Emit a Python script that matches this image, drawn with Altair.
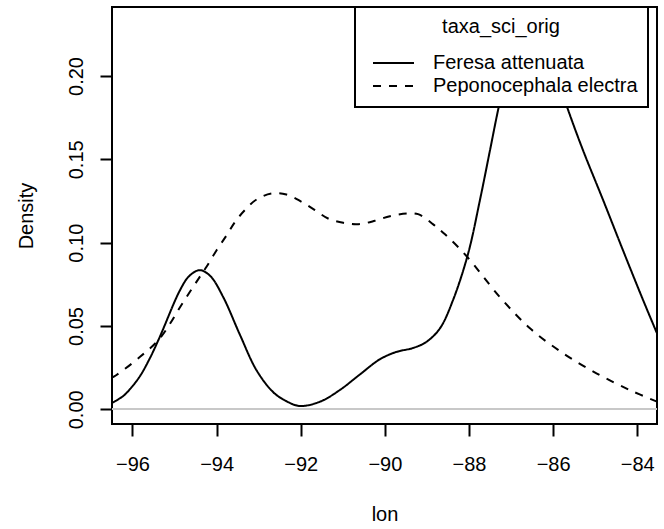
import altair as alt
import pandas as pd

species = ["Feresa attenuata", "Peponocephala electra"]

feresa_lon = [-96.49, -96.22, -96.05, -95.82, -95.58, -95.35, -94.87, -94.65, -94.40,
              -94.15, -93.84, -93.45, -93.05, -92.65, -92.35, -92.02, -91.54, -91.07,
              -90.59, -90.12, -89.72, -89.33, -89.01, -88.69, -88.38, -88.02, -87.74,
              -87.50, -87.31, -87.10, -86.85, -86.55, -86.25, -85.95, -85.64, -85.29,
              -84.81, -84.34, -83.86, -83.53]
feresa_density = [0.0038, 0.0080, 0.0124, 0.0200, 0.0310, 0.0435, 0.0715, 0.0800, 0.0835,
                  0.0800, 0.0672, 0.0450, 0.0234, 0.0102, 0.0050, 0.0020, 0.0046, 0.0116,
                  0.0210, 0.0300, 0.0345, 0.0368, 0.0405, 0.0486, 0.0655, 0.0935, 0.1255,
                  0.1555, 0.1794, 0.2030, 0.2220, 0.2315, 0.2240, 0.2025, 0.1794, 0.1555,
                  0.1255, 0.0955, 0.0655, 0.0456]

pepo_lon = [-96.49, -96.38, -95.82, -95.35, -94.79, -94.40, -94.24, -94.00, -93.76,
            -93.56, -93.33, -93.05, -92.69, -92.34, -91.98, -91.66, -91.35, -90.99,
            -90.63, -90.24, -89.88, -89.48, -89.21, -88.85, -88.57, -88.06, -87.27,
            -86.55, -85.76, -84.97, -84.18, -83.53]
pepo_density = [0.0190, 0.0206, 0.0315, 0.0426, 0.0645, 0.0795, 0.0855, 0.0955, 0.1045,
                0.1125, 0.1195, 0.1259, 0.1295, 0.1289, 0.1245, 0.1195, 0.1145, 0.1119,
                0.1111, 0.1131, 0.1159, 0.1175, 0.1171, 0.1110, 0.1050, 0.0920, 0.0675,
                0.0486, 0.0336, 0.0216, 0.0116, 0.0046]

x_ticks = [-96, -94, -92, -90, -88, -86, -84]
y_ticks = [0.0, 0.05, 0.10, 0.15, 0.20]

df = pd.concat([
    pd.DataFrame({"lon": feresa_lon, "density": feresa_density, "taxa_sci_orig": species[0]}),
    pd.DataFrame({"lon": pepo_lon, "density": pepo_density, "taxa_sci_orig": species[1]}),
], ignore_index=True)

FONT = "Liberation Sans"

xscale = alt.Scale(domain=[-96.487, -83.53], nice=False, zero=False)
yscale = alt.Scale(domain=[-0.0088, 0.2414], nice=False, zero=False)

zero_line = alt.Chart(df).mark_rule(color="#c8c8c8", strokeWidth=1.5).encode(
    y=alt.datum(0.0, scale=yscale)
)

lines = alt.Chart(df).mark_line(color="black", strokeWidth=2, interpolate="catmull-rom").encode(
    x=alt.X("lon:Q", scale=xscale,
            axis=alt.Axis(values=x_ticks, format="d", title="lon",
                          titleX=272.5, titleY=96, titleBaseline="alphabetic",
                          titleAlign="center", labelPadding=18)),
    y=alt.Y("density:Q", scale=yscale,
            axis=alt.Axis(values=y_ticks, format=".2f", title="Density",
                          labelAngle=270, labelAlign="center", labelBaseline="bottom",
                          labelPadding=14, titleX=-80, titleY=208.5, titleAngle=270,
                          titleAlign="center", titleBaseline="alphabetic")),
    strokeDash=alt.StrokeDash(
        "taxa_sci_orig:N",
        scale=alt.Scale(domain=species, range=[[1, 0], [8, 8]]),
        legend=alt.Legend(
            title="taxa_sci_orig", orient="none", legendX=243, legendY=0,
            fillColor="white", strokeColor="black", padding=10,
            titleAnchor="middle", titlePadding=15,
            symbolType="stroke", symbolSize=1681, symbolStrokeWidth=2,
            symbolStrokeColor="black", symbolOffset=7,
            labelOffset=18, labelLimit=400, clipHeight=22, rowPadding=1,
            zindex=1,
        ),
    ),
)

chart = alt.layer(zero_line, lines).properties(
    width=545, height=417,
    background="white",
    autosize=alt.AutoSizeParams(type="none"),
    padding={"left": 112, "top": 7, "right": 7, "bottom": 105},
).configure_view(
    stroke="black", strokeWidth=2
).configure_axis(
    domain=False, grid=False,
    tickColor="black", tickWidth=2, tickSize=12,
    labelFont=FONT, labelFontSize=20, labelColor="black",
    titleFont=FONT, titleFontSize=20, titleColor="black", titleFontWeight="normal",
).configure_legend(
    strokeWidth=2,
    titleFont=FONT, titleFontSize=20, titleColor="black", titleFontWeight="normal",
    labelFont=FONT, labelFontSize=20, labelColor="black",
)

chart.save("out.html", embed_options={"renderer": "svg", "actions": False})
